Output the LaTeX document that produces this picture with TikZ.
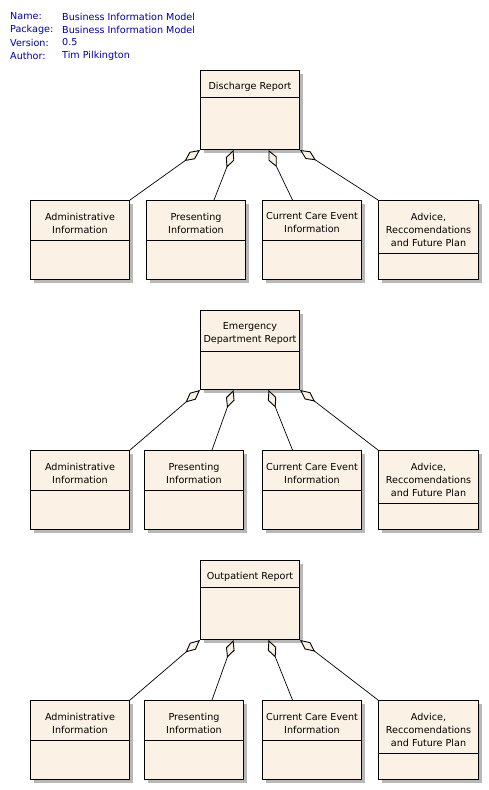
\documentclass[tikz,border=0pt]{standalone}
\usepackage{fontspec}
\setmainfont{DejaVu Sans}
\usetikzlibrary{arrows.meta,calc,shadows}

\definecolor{classfill}{RGB}{251,241,228}
\definecolor{shadowgray}{RGB}{184,184,184}
\definecolor{headerblue}{RGB}{0,0,160}

% A UML class box: name, left x, top y, width, name-compartment height, title
\newcommand\umlclass[6]{%
  \node[classbox, minimum width=#4pt] (#1) at (#2,#3) {};
  \draw[sepline] ($(#1.north west)+(0,#5)$) -- ($(#1.north east)+(0,#5)$);
  \node[classtitle] (#1-t) at ($(#1.north)+(0,#5/2+3)$) {#6};
}

% One report with its four aggregated parts
\newcommand\reportgroup[6]{% prefix, top y, parts y, title separator, title, presenting x
  \umlclass{#1}{200}{#2}{99}{#4}{#5}
  \umlclass{#1-adm}{30}{#3}{99}{40}{Administrative\\Information}
  \umlclass{#1-pre}{#6}{#3}{99}{40}{Presenting\\Information}
  \umlclass{#1-cur}{262}{#3}{99}{40}{Current Care Event\\Information}
  \umlclass{#1-adv}{378}{#3}{100}{53}{Advice,\\Reccomendations\\and Future Plan}
  \draw[agg] (#1-adm.north east) -- (#1.south west);
  \draw[agg] ($(#1-pre.north)+(18,0)$) -- ($(#1.south)+(-16.5,0)$);
  \draw[agg] ($(#1-cur.north)+(-19.5,0)$) -- ($(#1.south)+(18.5,0)$);
  \draw[agg] (#1-adv.north west) -- (#1.south east);
}

\begin{document}
\begin{tikzpicture}[x=1pt,y=-1pt,
  font=\fontsize{9.6}{13}\selectfont,
  classbox/.style={draw, line width=1pt, fill=classfill, anchor=north west,
    inner sep=0pt, minimum height=79pt,
    general shadow={shadow xshift=3pt, shadow yshift=-3pt, fill=shadowgray}},
  sepline/.style={line width=1pt},
  classtitle/.style={align=center, inner sep=0pt},
  agg/.style={line width=0.7pt,
    -{Diamond[length=19pt, width=9pt, fill=classfill, line width=0.9pt]}},
  hdr/.style={anchor=west, inner sep=0pt, text=headerblue}]

\useasboundingbox (0,0) rectangle (488,790);

% model properties
\node[hdr] (nameK) at (10,16.5) {Name:};
\node[hdr] (nameV) at (62,16.5) {Business Information Model};
\node[hdr] (pkgK) at (10,29.5) {Package:};
\node[hdr] (pkgV) at (62,29.5) {Business Information Model};
\node[hdr] (verK) at (10,42.5) {Version:};
\node[hdr] (verV) at (62,42.5) {0.5};
\node[hdr] (autK) at (10,55.5) {Author:};
\node[hdr] (autV) at (62,55.5) {Tim Pilkington};

\reportgroup{dis}{70}{200}{27}{Discharge Report}{146}
\reportgroup{ed}{310}{450}{41}{Emergency\\Department Report}{144}
\reportgroup{op}{560}{700}{27}{Outpatient Report}{144}

\end{tikzpicture}
\end{document}
